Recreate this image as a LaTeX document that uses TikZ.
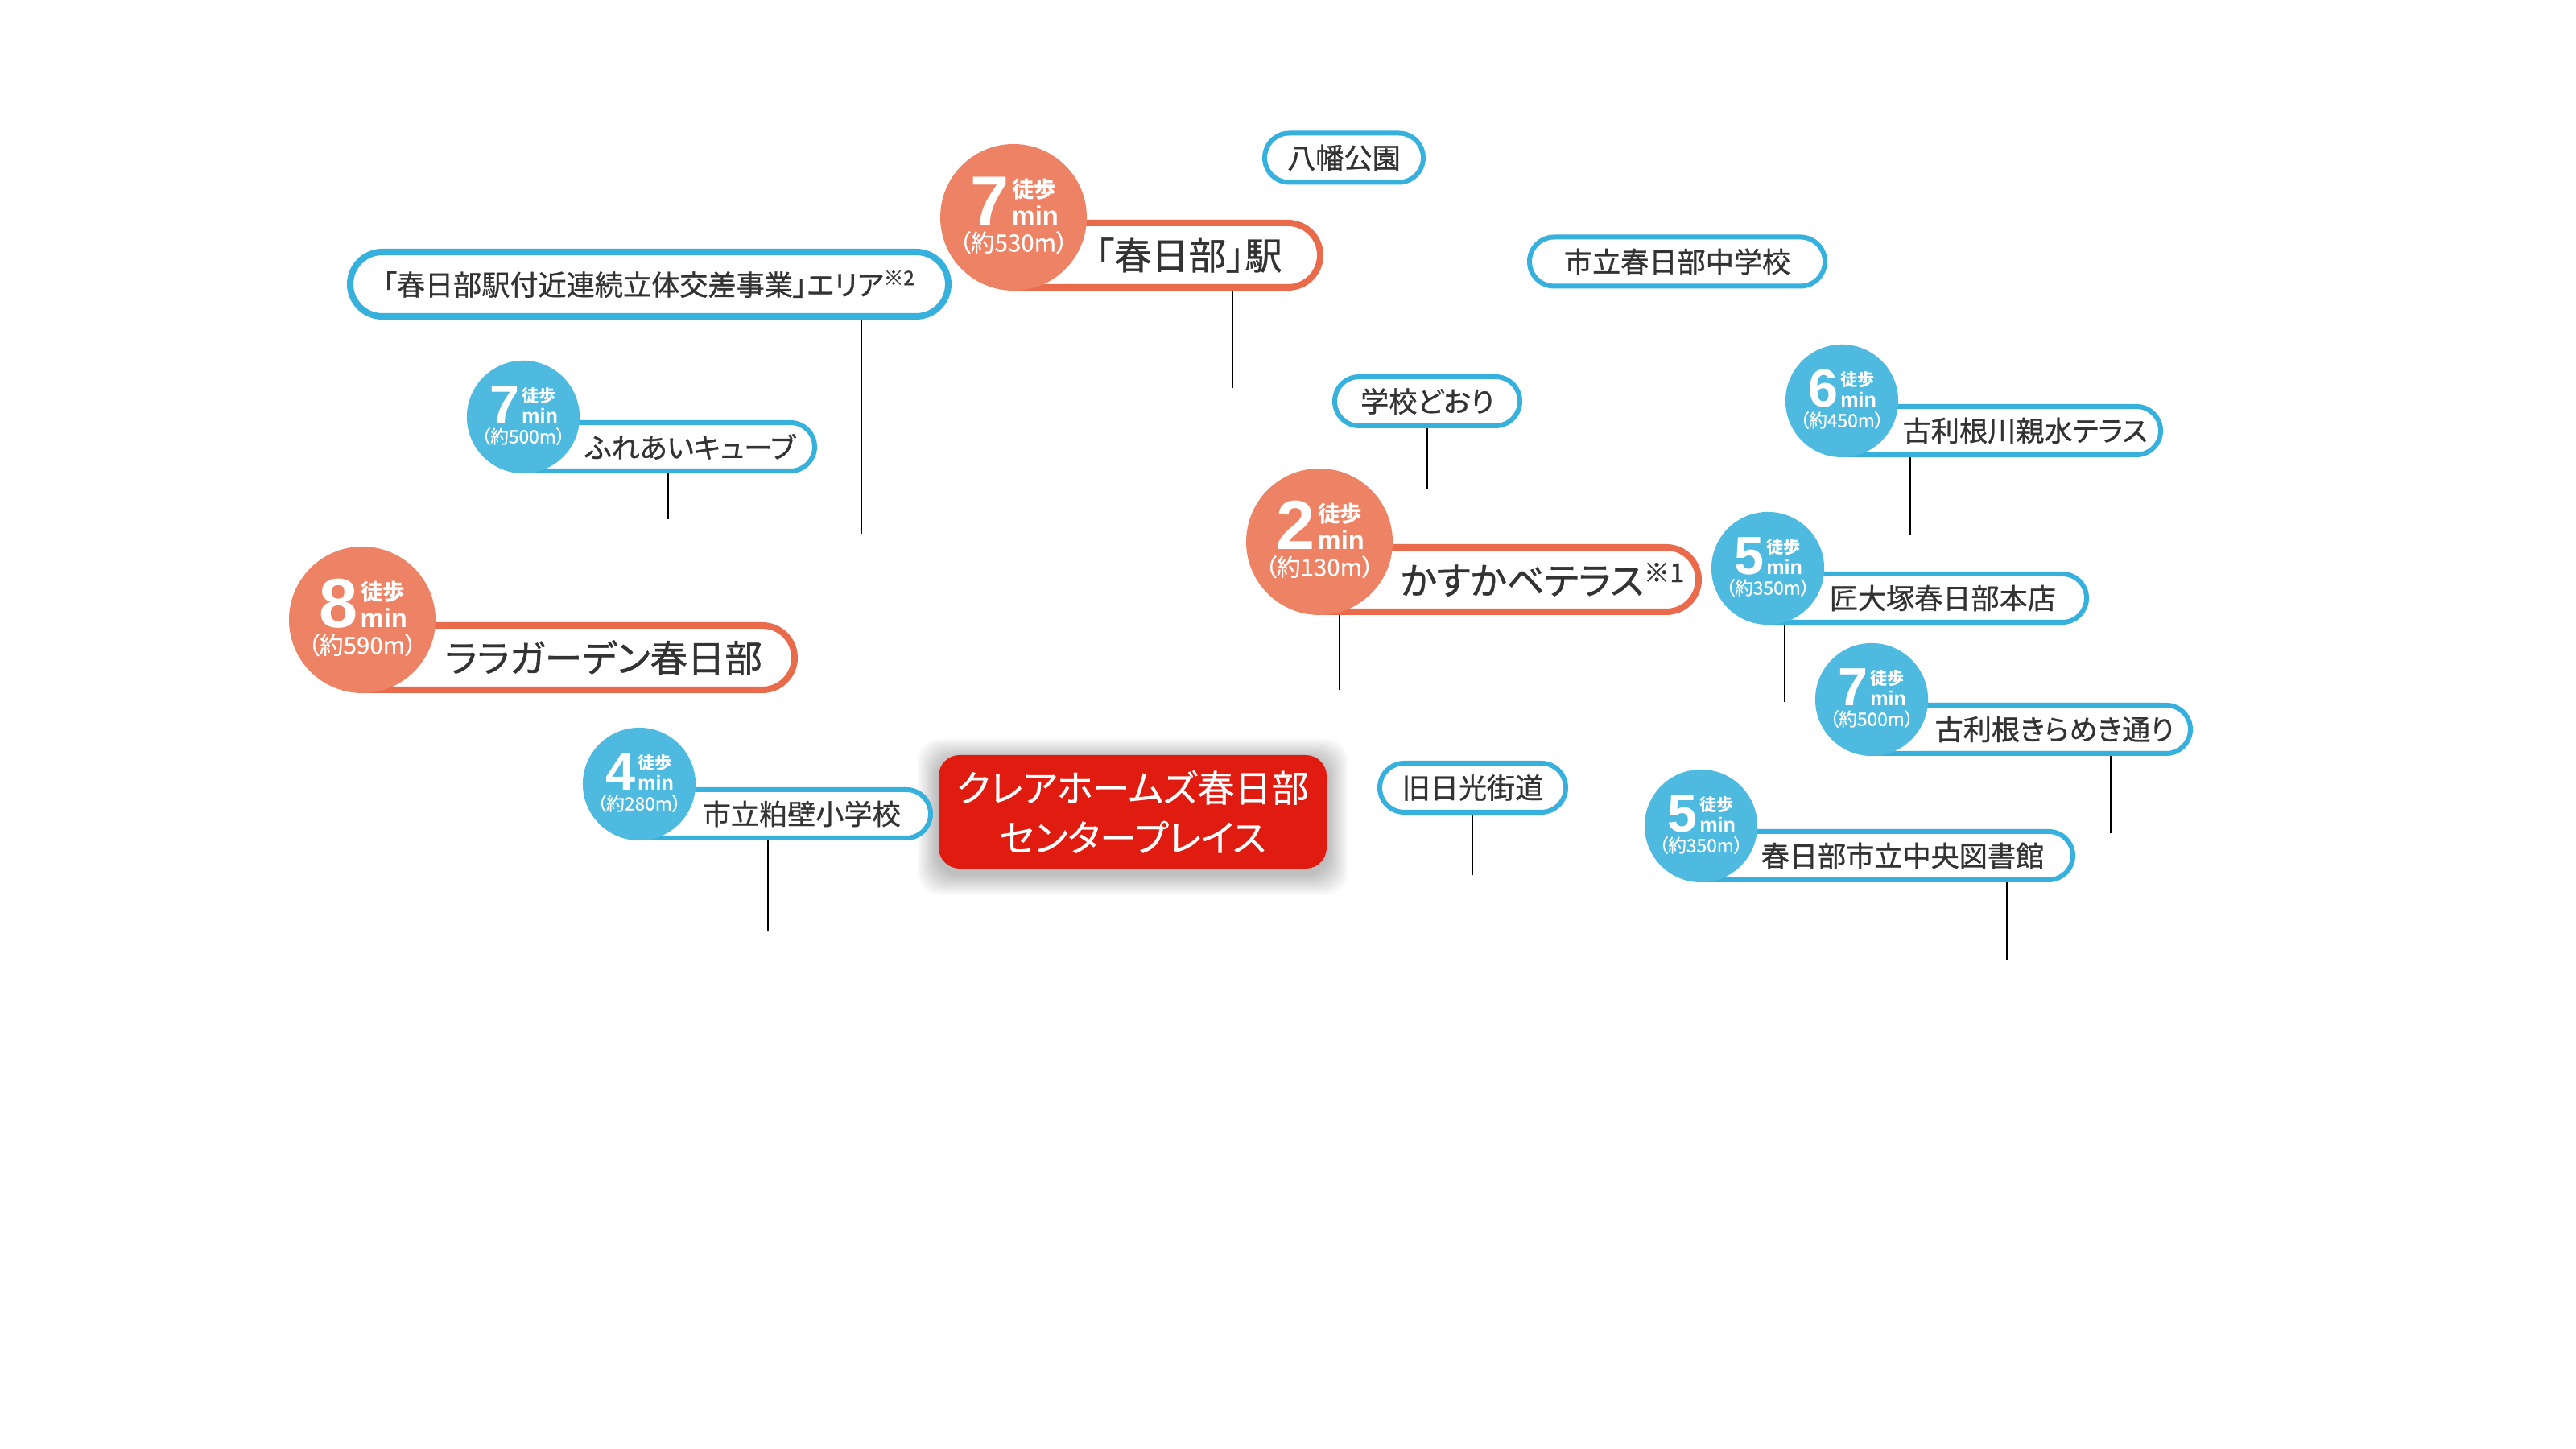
\documentclass[tikz,border=0pt]{standalone}
\usepackage{fontspec}
\setmainfont{Noto Sans CJK JP}
\newfontfamily\jp{Noto Sans CJK JP}[RawFeature=+palt,FakeBold=0.8]
\newfontfamily\jpw{Noto Sans CJK JP}[RawFeature=+palt,FakeBold=0.5]
\newfontfamily\digits{Liberation Sans}
\usetikzlibrary{shapes.misc,backgrounds}
\definecolor{orgfill}{HTML}{EE8264}
\definecolor{pillorange}{HTML}{EA6B4B}
\definecolor{bluefill}{HTML}{4FBAE0}
\definecolor{tagblue}{HTML}{36B0DD}
\definecolor{homered}{HTML}{E01B10}
\definecolor{ink}{HTML}{333333}
\newcommand\spotbig{\jp\fontsize{13.2}{16}\selectfont}
\newcommand\spotsmall{\jp\fontsize{10.0}{12}\selectfont}
\newcommand\homefont{\jpw\fontsize{13.1}{17.6}\selectfont}
\newcommand\walknum{\digits\fontsize{24.6}{24}\selectfont\bfseries}
\newcommand\walkjp{\fontsize{7.8}{8}\selectfont\bfseries}
\newcommand\walkmin{\digits\fontsize{9.3}{10}\selectfont\bfseries}
\newcommand\walkdist{\jpw\fontsize{8.4}{9}\selectfont}
\begin{document}
\begin{tikzpicture}[x=1mm,y=1mm,
  walk/.style={circle,minimum size=18.2mm,inner sep=0pt},
  pill/.style={rounded rectangle,rounded rectangle west arc=none,anchor=west,inner sep=0pt,fill=white,minimum height=8mm,line width=0.8mm},
  thin pill/.style={pill,draw=tagblue,minimum height=6mm,line width=0.6mm},
  tag/.style={rounded rectangle,inner sep=0pt,fill=white,draw=tagblue,line width=0.6mm,minimum height=6.1mm,text=ink,font=\spotsmall},
  spot/.style={anchor=west,inner sep=0pt,text=ink},
  stem/.style={line width=0.27mm,black}]
\useasboundingbox (0,0) rectangle (320,180);
\node[pill,draw=pillorange,minimum width=37.7mm] (station) at (125.9,148.3) {};
\node[spot,font=\spotbig] (station-t) at (136.0,148.3) {「春日部」駅};
\node[pill,draw=pillorange,minimum width=53.3mm] (lala) at (45.0,98.3) {};
\node[spot,font=\spotbig] (lala-t) at (55.2,98.3) {ララガーデン春日部};
\node[pill,draw=pillorange,minimum width=46.7mm] (kasukabe) at (163.9,108.0) {};
\node[spot,font=\spotbig] (kasukabe-t) at (173.9,108.0) {かすかベテラス\textsuperscript{※1}};
\node[thin pill,minimum width=35.9mm] (fureai) at (65.0,124.5) {};
\node[spot,font=\spotsmall] (fureai-t) at (72.6,124.5) {ふれあいキューブ};
\node[thin pill,minimum width=35.9mm] (kasukabeES) at (79.4,78.9) {};
\node[spot,font=\spotsmall] (kasukabeES-t) at (87.2,78.9) {市立粕壁小学校};
\node[thin pill,minimum width=39.3mm] (furitone) at (228.8,126.5) {};
\node[spot,font=\spotsmall] (furitone-t) at (236.3,126.5) {古利根川親水テラス};
\node[thin pill,minimum width=39.3mm] (takumi) at (219.6,105.7) {};
\node[spot,font=\spotsmall] (takumi-t) at (227.2,105.7) {匠大塚春日部本店};
\node[thin pill,minimum width=39.3mm] (kirameki) at (232.5,89.4) {};
\node[spot,font=\spotsmall] (kirameki-t) at (240.3,89.4) {古利根きらめき通り};
\node[thin pill,minimum width=45.9mm] (library) at (211.3,73.7) {};
\node[spot,font=\spotsmall] (library-t) at (218.7,73.7) {春日部市立中央図書館};
\foreach \nm/\cx/\cy/\sc/\col/\num/\dist in {station/125.9/153.0/1/orgfill/7/530,lala/45.0/103.0/1/orgfill/8/590,kasukabe/163.9/112.7/1/orgfill/2/130,fureai/65.0/128.2/0.77/bluefill/7/500,kasukabeES/79.4/82.6/0.77/bluefill/4/280,furitone/228.8/130.2/0.77/bluefill/6/450,takumi/219.6/109.4/0.77/bluefill/5/350,kirameki/232.5/93.1/0.77/bluefill/7/500,library/211.3/77.4/0.77/bluefill/5/350}{
  \begin{scope}[shift={(\cx,\cy)},scale=\sc,transform shape]
    \node[walk,fill=\col] (walk-\nm) at (0,0) {};
    \node[anchor=base west,inner sep=0pt,text=white,font=\walknum] (walk-\nm-num) at (-5.45,-1.0) {\num};
    \node[anchor=base west,inner sep=0pt,text=white,font=\walkjp] (walk-\nm-jp) at (-0.25,2.4) {徒歩};
    \node[anchor=base west,inner sep=0pt,text=white,font=\walkmin] (walk-\nm-min) at (-0.3,-1.0) {min};
    \node[anchor=base,inner sep=0pt,text=white,font=\walkdist] (walk-\nm-dist) at (0,-4.25) {（約\dist m）};
  \end{scope}
}
\node[tag,minimum width=19.7mm] (hachiman) at (166.95,160.4) {八幡公園};
\node[tag,minimum width=36.7mm] (juniorhigh) at (208.35,147.5) {市立春日部中学校};
\node[tag,minimum width=23.0mm] (gakko) at (177.3,130.15) {学校どおり};
\node[tag,minimum width=23.1mm] (nikko) at (182.95,82.15) {旧日光街道};
\node[tag,line width=0.8mm,minimum height=8mm,minimum width=74.3mm] (railway) at (80.65,144.7) {「春日部駅付近連続立体交差事業」エリア\textsuperscript{※2}};
\node[fill=homered,rounded corners=2.6mm,minimum width=48.2mm,minimum height=14.1mm,text=white,font=\homefont,align=center,inner sep=0pt] (home) at (140.7,79.15) {クレアホームズ春日部\\センタープレイス};
\coordinate (station-e) at (153.1,131.8);
\coordinate (railway-e) at (107.0,113.7);
\coordinate (fureai-e) at (83.0,115.5);
\coordinate (kasukabeES-e) at (95.4,64.3);
\coordinate (kasukabe-e) at (166.4,94.3);
\coordinate (gakko-e) at (177.3,119.3);
\coordinate (furitone-e) at (237.3,113.5);
\coordinate (takumi-e) at (221.7,92.8);
\coordinate (kirameki-e) at (262.2,76.5);
\coordinate (library-e) at (249.3,60.7);
\coordinate (nikko-e) at (182.9,71.3);
\begin{scope}[on background layer]
  \fill[white] (0,0) rectangle (320,180);
  \foreach \e in {0.2,0.4,...,2.6}
    \fill[black,opacity=0.02,rounded corners=2.8mm] ([shift={(-\e,-\e-0.6)}]home.south west) rectangle ([shift={(\e,\e-0.6)}]home.north east);
  \foreach \s in {station,railway,fureai,kasukabeES,kasukabe,gakko,furitone,takumi,kirameki,library,nikko}
    \draw[stem] (\s.south -| \s-e) -- (\s-e);
\end{scope}
\end{tikzpicture}
\end{document}
